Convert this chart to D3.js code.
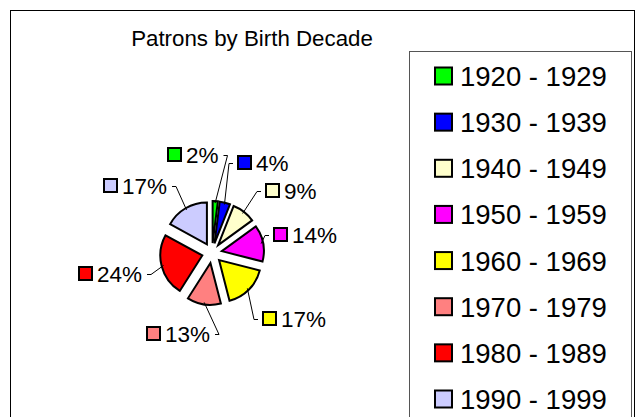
<!DOCTYPE html>
<html>
<head>
<meta charset="utf-8">
<script src="https://cdn.jsdelivr.net/npm/d3@7"></script>
<style>
  body { margin: 0; background: #fff; }
  svg { display: block; font-family: "Liberation Sans", Arial, sans-serif; }
</style>
</head>
<body>
<div id="chart"></div>
<script>
// Chart data
const title = 'Patrons by Birth Decade';
const decades = ['1920 - 1929', '1930 - 1939', '1940 - 1949', '1950 - 1959',
                 '1960 - 1969', '1970 - 1979', '1980 - 1989', '1990 - 1999'];
const shares = [2, 4, 9, 14, 17, 13, 24, 17];
const colors = ['#00ff00', '#0000ff', '#ffffcc', '#ff00ff',
                '#ffff00', '#ff8080', '#ff0000', '#ccccff'];

// Label placement (relative to the pie centre), as Excel "best fit" left them
const labelOffsets = [[-45, -106], [25, -98], [53, -70], [61, -26],
                      [50, 58], [-66, 73], [-134, 13], [-109, -75]];

const width = 637, height = 417;
const cx = 212, cy = 253, radius = 42, explode = 10;

const svg = d3.select('#chart').append('svg')
    .attr('width', width)
    .attr('height', height);

// Outer chart frame
svg.append('rect')
    .attr('x', 10.5).attr('y', 10.5)
    .attr('width', 624).attr('height', 430)
    .attr('fill', '#fff')
    .attr('stroke', '#000')
    .attr('stroke-width', 1);

// Title
svg.append('text')
    .attr('x', 252).attr('y', 46)
    .attr('text-anchor', 'middle')
    .style('font-size', '22.3px')
    .style('fill', '#000')
    .text(title);

// Pie
const pie = d3.pie().sort(null).value(d => d);
const arcs = pie(shares);
const arc = d3.arc().innerRadius(0).outerRadius(radius);

const mid = d => (d.startAngle + d.endAngle) / 2;

const g = svg.append('g').attr('transform', `translate(${cx},${cy})`);

g.selectAll('.slice')
    .data(arcs)
    .enter()
    .append('path')
    .attr('class', 'slice')
    .attr('transform', d => `translate(${explode * Math.sin(mid(d))},${-explode * Math.cos(mid(d))})`)
    .attr('d', arc)
    .attr('fill', (d, i) => colors[i])
    .attr('stroke', '#000')
    .attr('stroke-width', 2)
    .attr('stroke-linejoin', 'miter');

// Data labels
const sq = 15;
const labelFont = 22.5;

const labels = g.selectAll('.lbl')
    .data(arcs)
    .enter()
    .append('g')
    .attr('class', 'lbl')
    .attr('transform', (d, i) => `translate(${labelOffsets[i][0]},${labelOffsets[i][1]})`);

labels.append('rect')
    .attr('x', 1).attr('y', 1)
    .attr('width', sq - 2).attr('height', sq - 2)
    .attr('fill', (d, i) => colors[i])
    .attr('stroke', '#000')
    .attr('stroke-width', 2);

labels.append('text')
    .attr('x', sq + 4)
    .attr('y', sq + 1)
    .style('font-size', labelFont + 'px')
    .style('fill', '#000')
    .text(d => d.data + '%');

// Leader lines: from the slice edge to the side of the label
g.selectAll('.leader')
    .data(arcs)
    .enter()
    .append('polyline')
    .attr('class', 'leader')
    .attr('fill', 'none')
    .attr('stroke', '#000')
    .attr('stroke-width', 1)
    .attr('points', (d, i) => {
        const a = mid(d);
        const ex = explode * Math.sin(a), ey = -explode * Math.cos(a);
        const px = ex + (radius - 2) * Math.sin(a);
        const py = ey - (radius - 2) * Math.cos(a);
        const [lx, ly] = labelOffsets[i];
        const right = lx > px - 10;
        const textW = (String(d.data).length * 0.556 + 0.889) * labelFont;
        const tx = right ? lx - 4 : lx + sq + 4 + textW + 5;
        const ty = ly + sq / 2 + 1;
        const kx = right ? tx - 4 : tx + 4;
        return `${px},${py} ${kx},${ty} ${tx},${ty}`;
    });

// Legend
const legendX = 409, legendY = 51;
svg.append('rect')
    .attr('x', legendX + 0.5).attr('y', legendY + 0.5)
    .attr('width', 222).attr('height', 400)
    .attr('fill', '#fff')
    .attr('stroke', '#555')
    .attr('stroke-width', 1);

const rowY = d3.scalePoint().domain(decades).range([76, 399]);

const items = svg.selectAll('.legend-item')
    .data(decades)
    .enter()
    .append('g')
    .attr('class', 'legend-item')
    .attr('transform', d => `translate(${legendX},${rowY(d)})`);

items.append('rect')
    .attr('x', 26).attr('y', -8.5)
    .attr('width', 17).attr('height', 17)
    .attr('fill', (d, i) => colors[i])
    .attr('stroke', '#000')
    .attr('stroke-width', 2);

items.append('text')
    .attr('x', 51)
    .attr('y', 10)
    .style('font-size', '27.5px')
    .style('fill', '#000')
    .text(d => d);
</script>
</body>
</html>
